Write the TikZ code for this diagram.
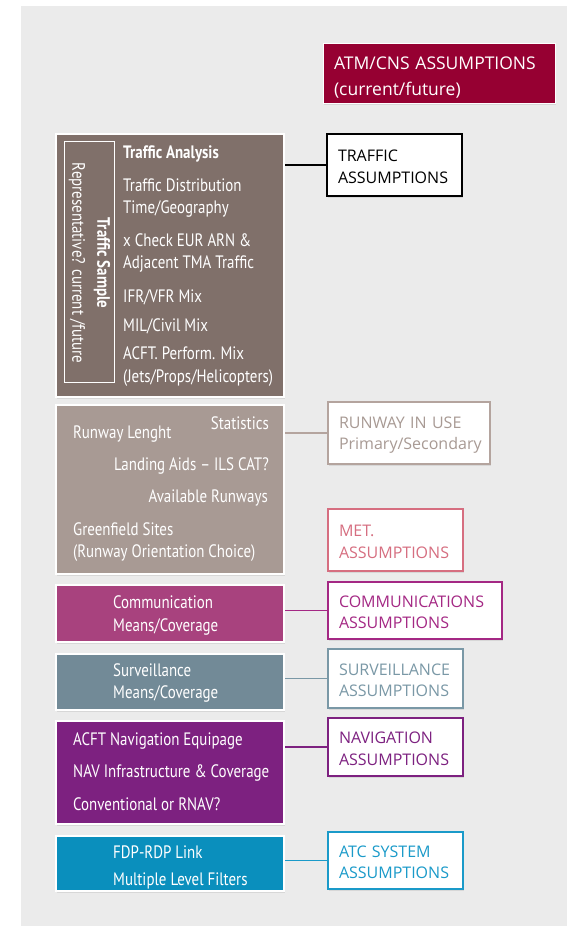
\documentclass[tikz,border=0pt]{standalone}
\usepackage{fontspec}
\setmainfont{Open Sans}
\newfontfamily\narrowfont[FakeStretch=0.83]{PT Sans}
\usetikzlibrary{positioning}
\usetikzlibrary{shadows}
\definecolor{bggray}{RGB}{235,235,235}
\definecolor{atmred}{RGB}{150,0,50}
\definecolor{trafbrown}{RGB}{128,112,106}
\definecolor{rwytaupe}{RGB}{168,154,148}
\definecolor{rwyline}{RGB}{180,164,158}
\definecolor{metpink}{RGB}{214,110,128}
\definecolor{commpurple}{RGB}{168,66,126}
\definecolor{commline}{RGB}{164,40,132}
\definecolor{survgray}{RGB}{114,138,151}
\definecolor{survline}{RGB}{122,152,166}
\definecolor{navpurple}{RGB}{125,33,128}
\definecolor{atcblue}{RGB}{10,143,189}
\definecolor{atcline}{RGB}{26,154,201}

\newcommand{\lowered}[1]{\raisebox{-2pt}[\height][\depth]{#1}}

\tikzset{
    leftbox/.style={draw=white, line width=2pt, minimum width=228pt, inner sep=0pt,
        drop shadow={opacity=0.18, shadow xshift=1pt, shadow yshift=-1.5pt}},
    rightbox/.style={draw=#1, text=#1, fill=white, line width=2pt, align=left,
        inner xsep=11pt, inner ysep=0pt, font=\fontsize{16}{21.5}\selectfont,
        drop shadow={opacity=0.18, shadow xshift=1pt, shadow yshift=-1.5pt}},
    lbl/.style={text=white, font=\narrowfont\fontsize{18}{22}\selectfont,
        inner sep=0pt, text height=14pt, text depth=4pt},
    link/.style={draw=#1, line width=1.6pt}
}

\begin{document}
\begin{tikzpicture}[x=1pt, y=-1pt]
    % Frame and background
    \useasboundingbox (0,0) rectangle (567,926);
    \fill[bggray] (21,6) rectangle (567,926);

    % Header box
    \node[draw=white, line width=1pt, fill=atmred, text=white, align=left, font=\fontsize{17.5}{26}\selectfont,
        text width=210pt, minimum height=60pt, inner xsep=11pt, inner ysep=0pt,
        drop shadow={opacity=0.18, shadow xshift=1pt, shadow yshift=-1.5pt}]
        (atm) at (439,73) {\raisebox{-5pt}[\height][\depth]{ATM/CNS ASSUMPTIONS}\\\raisebox{-5pt}[\height][\depth]{(current/future)}};

    % Left column boxes
    \node[leftbox, fill=trafbrown, minimum height=263pt] (traffic) at (170,265.5) {};
    \node[leftbox, fill=rwytaupe, minimum height=169pt] (runway) at (170,489.5) {};
    \node[leftbox, fill=commpurple, minimum height=57pt] (comm) at (170,613.5) {};
    \node[leftbox, fill=survgray, minimum height=56pt] (surv) at (170,682) {};
    \node[leftbox, fill=navpurple, minimum height=103pt] (nav) at (170,772.5) {};
    \node[leftbox, fill=atcblue, minimum height=55pt] (atc) at (170,863.5) {};

    % Traffic sample frame with rotated label
    \draw[white, line width=1pt] (64,141) rectangle (114,382);
    \node[text=white, rotate=-90, align=center, inner sep=0pt,
        font=\narrowfont\fontsize{18}{25}\selectfont] (sample) at (89.5,263)
        {\textbf{Traffic Sample}\\Representative? current /future};

    % Traffic analysis texts
    \node[lbl, anchor=west, font=\narrowfont\bfseries\fontsize{18}{22}\selectfont] (ta0) at (123,153) {Traffic Analysis};
    \foreach \y/\t [count=\i] in {186/Traffic Distribution, 208/{Time/Geography},
        241/x Check EUR ARN \&, 263/Adjacent TMA Traffic, 297/{IFR/VFR Mix},
        326/{MIL/Civil Mix}, 354/ACFT. Perform. Mix, 377/{(Jets/Props/Helicopters)}}
        \node[lbl, anchor=west] (ta\i) at (123,\y) {\t};

    % Runway texts
    \node[lbl, anchor=east] (rw1) at (269,424) {Statistics};
    \node[lbl, anchor=west] (rw2) at (73,433) {Runway Lenght};
    \node[lbl, anchor=east] (rw3) at (269,465) {Landing Aids – ILS CAT?};
    \node[lbl, anchor=east] (rw4) at (268,497) {Available Runways};
    \node[lbl, anchor=west] (rw5) at (73,530) {Greenfield Sites};
    \node[lbl, anchor=west] (rw6) at (73,552) {(Runway Orientation Choice)};

    % Remaining left texts
    \node[lbl, anchor=west] (cm1) at (113,603) {Communication};
    \node[lbl, anchor=west] (cm2) at (113,626) {Means/Coverage};
    \node[lbl, anchor=west] (sv1) at (113,671) {Surveillance};
    \node[lbl, anchor=west] (sv2) at (113,693) {Means/Coverage};
    \node[lbl, anchor=west] (nv1) at (73,740) {ACFT Navigation Equipage};
    \node[lbl, anchor=west] (nv2) at (73,772) {NAV Infrastructure \& Coverage};
    \node[lbl, anchor=west] (nv3) at (73,805) {Conventional or RNAV?};
    \node[lbl, anchor=west] (ac1) at (113,853) {FDP-RDP Link};
    \node[lbl, anchor=west] (ac2) at (113,880) {Multiple Level Filters};

    % Right column boxes
    \node[rightbox=black, text width=113pt, minimum height=62pt] (trafR) at (394.5,165) {\lowered{TRAFFIC}\\\lowered{ASSUMPTIONS}};
    \node[rightbox=rwyline, text=rwytaupe, text width=140pt, minimum height=62pt] (rwyR) at (409,433) {\lowered{RUNWAY IN USE}\\\lowered{Primary/Secondary}};
    \node[rightbox=metpink, text width=113pt, minimum height=62pt] (metR) at (395.5,540) {\lowered{MET.}\\\lowered{ASSUMPTIONS}};
    \node[rightbox=commline, text width=152pt, minimum height=57pt] (commR) at (415,610.5) {\lowered{COMMUNICATIONS}\\\lowered{ASSUMPTIONS}};
    \node[rightbox=survline, text width=113pt, minimum height=59pt] (survR) at (395.5,678.5) {\lowered{SURVEILLANCE}\\\lowered{ASSUMPTIONS}};
    \node[rightbox=navpurple, text width=113pt, minimum height=58pt] (navR) at (395.5,747) {\lowered{NAVIGATION}\\\lowered{ASSUMPTIONS}};
    \node[rightbox=atcline, text width=113pt, minimum height=57pt] (atcR) at (395.5,860.5) {\lowered{ATC SYSTEM}\\\lowered{ASSUMPTIONS}};

    % Links
    \draw[link=black] (traffic.east |- trafR.west) -- (trafR.west);
    \draw[link=rwyline] (runway.east |- rwyR.west) -- (rwyR.west);
    \draw[link=commline] (comm.east |- commR.west) -- (commR.west);
    \draw[link=survline] (surv.east |- survR.west) -- (survR.west);
    \draw[link=navpurple] (nav.east |- navR.west) -- (navR.west);
    \draw[link=atcline] (atc.east |- atcR.west) -- (atcR.west);
\end{tikzpicture}
\end{document}
